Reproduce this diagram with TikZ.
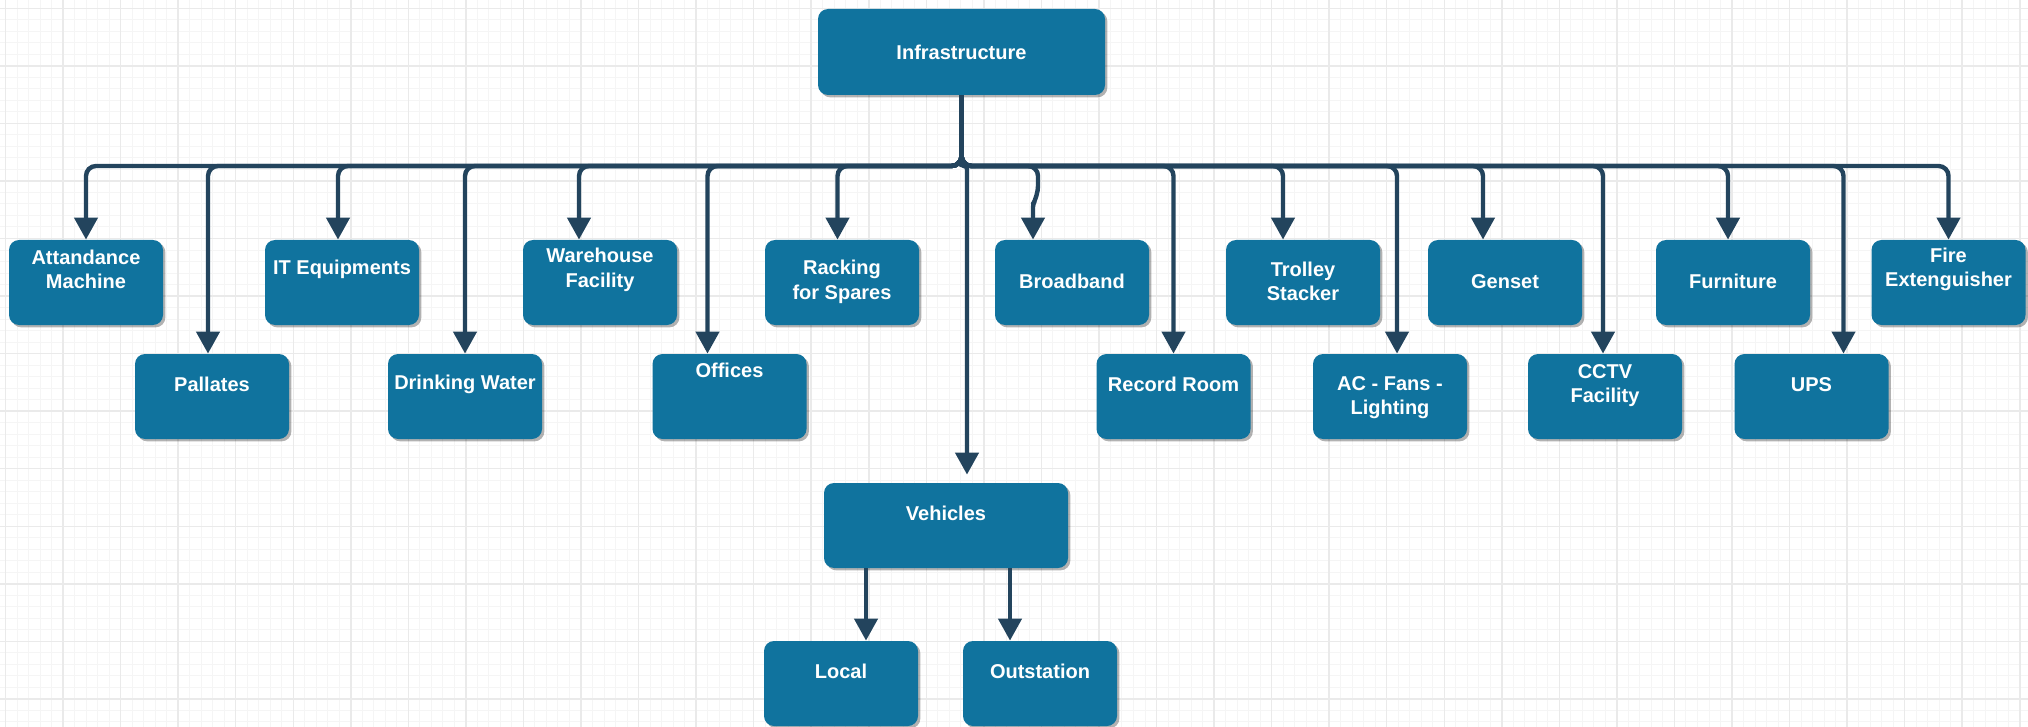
\documentclass[tikz,border=0pt]{standalone}
\usepackage{fontspec}
\setmainfont{Liberation Sans}
\usepackage{tikz}
\usetikzlibrary{arrows.meta,shadows}
\definecolor{colorfacility}{HTML}{10739E}
\definecolor{colorlink}{HTML}{23445D}
\definecolor{colorgridmajor}{HTML}{EAEAEA}
\definecolor{colorgridminor}{HTML}{F5F5F5}
\tikzstyle{facility}=[rectangle, rounded corners=5pt, fill=colorfacility, minimum width=77pt, minimum height=42.5pt, inner sep=0pt, drop shadow={shadow xshift=1.2pt, shadow yshift=-1.2pt, opacity=0.3, fill=black}]
\tikzstyle{facilitytext}=[text=white, font=\fontsize{10}{12.25}\selectfont\bfseries, align=center, inner sep=0pt]
\tikzstyle{link}=[->, draw=colorlink, line width=2.2pt, rounded corners=5pt]

\begin{document}
\begin{tikzpicture}[x=0.5pt, y=-0.5pt, >={Triangle[length=11pt, width=11.5pt]}]

	\useasboundingbox (0,0) rectangle (2028,727);
	\fill[white] (0,0) rectangle (2028,727);
	\foreach \k in {0,...,175} \draw[colorgridminor, line width=0.5pt] ({5.5+11.51*\k},0) -- ++(0,727);
	\foreach \k in {0,...,62} \draw[colorgridminor, line width=0.5pt] (0,{8.3+11.51*\k}) -- ++(2028,0);
	\foreach \k in {0,...,35} \draw[colorgridmajor, line width=0.75pt] ({5.5+57.55*\k},0) -- ++(0,727);
	\foreach \k in {0,...,12} \draw[colorgridmajor, line width=0.75pt] (0,{8.3+57.55*\k}) -- ++(2028,0);

	\node[facility, minimum width=143.5pt, minimum height=43pt] at (961.5,52) (inf) {};
	\node[facilitytext] at (inf) {Infrastructure};

	\node[facility] at (86,282.5) (am) {};
	\node[facilitytext] at ([yshift=-15pt]am.north) {Attandance\\Machine};

	\node[facility] at (342,282.5) (it) {};
	\node[facilitytext] at ([yshift=-15pt]it.north) {IT Equipments};

	\node[facility] at (600,282.5) (wh) {};
	\node[facilitytext] at ([yshift=-15pt]wh.north) {Warehouse\\Facility};

	\node[facility] at (842,282.5) (rs) {};
	\node[facilitytext] at ([yshift=-21pt]rs.north) {Racking\\for Spares};

	\node[facility] at (1072,282.5) (bb) {};
	\node[facilitytext] at ([yshift=-21pt]bb.north) {Broadband};

	\node[facility] at (1303,282.5) (ts) {};
	\node[facilitytext] at ([yshift=-21pt]ts.north) {Trolley\\Stacker};

	\node[facility] at (1505,282.5) (gs) {};
	\node[facilitytext] at ([yshift=-21pt]gs.north) {Genset};

	\node[facility] at (1733,282.5) (fu) {};
	\node[facilitytext] at ([yshift=-21pt]fu.north) {Furniture};

	\node[facility] at (1948.5,282.5) (fe) {};
	\node[facilitytext] at ([yshift=-15pt]fe.north) {Fire\\Extenguisher};

	\node[facility] at (212,396.5) (pa) {};
	\node[facilitytext] at ([yshift=-15.5pt]pa.north) {Pallates};

	\node[facility] at (465,396.5) (dw) {};
	\node[facilitytext] at ([yshift=-15.5pt]dw.north) {Drinking Water};

	\node[facility] at (729.5,396.5) (of) {};
	\node[facilitytext] at ([yshift=-8.5pt]of.north) {Offices};

	\node[facility] at (1173.5,396.5) (rr) {};
	\node[facilitytext] at ([yshift=-15.5pt]rr.north) {Record Room};

	\node[facility] at (1390,396.5) (ac) {};
	\node[facilitytext] at ([yshift=-22pt]ac.north) {AC - Fans -\\Lighting};

	\node[facility] at (1605,396.5) (cc) {};
	\node[facilitytext] at ([yshift=-16pt]cc.north) {CCTV\\Facility};

	\node[facility] at (1811.5,396.5) (up) {};
	\node[facilitytext] at ([yshift=-15.5pt]up.north) {UPS};

	\node[facility, minimum width=122pt] at (946,525.5) (veh) {};
	\node[facilitytext] at ([yshift=-15.5pt]veh.north) {Vehicles};

	\node[facility] at (841,683.5) (loc) {};
	\node[facilitytext] at ([yshift=-15.5pt]loc.north) {Local};

	\node[facility] at (1040,683.5) (out) {};
	\node[facilitytext] at ([yshift=-15.5pt]out.north) {Outstation};

	\coordinate (bus) at (961,166);

	\draw[link] (inf.south) |- (am.north |- bus) -- (am.north);
	\draw[link] (inf.south) |- ([xshift=-2pt]pa.north |- bus) -- ([xshift=-2pt]pa.north);
	\draw[link] (inf.south) |- ([xshift=-2pt]it.north |- bus) -- ([xshift=-2pt]it.north);
	\draw[link] (inf.south) |- (dw.north |- bus) -- (dw.north);
	\draw[link] (inf.south) |- ([xshift=-10.5pt]wh.north |- bus) -- ([xshift=-10.5pt]wh.north);
	\draw[link] (inf.south) |- ([xshift=-11pt]of.north |- bus) -- ([xshift=-11pt]of.north);
	\draw[link] (inf.south) |- ([xshift=-2.25pt]rs.north |- bus) -- ([xshift=-2.25pt]rs.north);
	\draw[link, rounded corners=1.5pt, shorten >=4pt] (inf.south) |- ([xshift=10.5pt]veh.north |- bus) -- ([xshift=10.5pt]veh.north);
	\draw[link] (inf.south) |- ([xshift=-17pt]bb.north |- bus) -- ++(0,30) [rounded corners=1.5pt] -- ++(-5,8) -- ([xshift=-19.5pt]bb.north);
	\draw[link] (inf.south) |- (rr.north |- bus) -- (rr.north);
	\draw[link] (inf.south) |- ([xshift=-10pt]ts.north |- bus) -- ([xshift=-10pt]ts.north);
	\draw[link] (inf.south) |- ([xshift=3.5pt]ac.north |- bus) -- ([xshift=3.5pt]ac.north);
	\draw[link] (inf.south) |- ([xshift=-11pt]gs.north |- bus) -- ([xshift=-11pt]gs.north);
	\draw[link] (inf.south) |- ([xshift=-1pt]cc.north |- bus) -- ([xshift=-1pt]cc.north);
	\draw[link] (inf.south) |- ([xshift=-2.5pt]fu.north |- bus) -- ([xshift=-2.5pt]fu.north);
	\draw[link] (inf.south) |- ([xshift=16pt]up.north |- bus) -- ([xshift=16pt]up.north);
	\draw[link] (inf.south) |- (fe.north |- bus) -- (fe.north);

	\draw[link] ([xshift=12.5pt]loc.north |- veh.south) -- ([xshift=12.5pt]loc.north);
	\draw[link] ([xshift=-15pt]out.north |- veh.south) -- ([xshift=-15pt]out.north);

\end{tikzpicture}
\end{document}
